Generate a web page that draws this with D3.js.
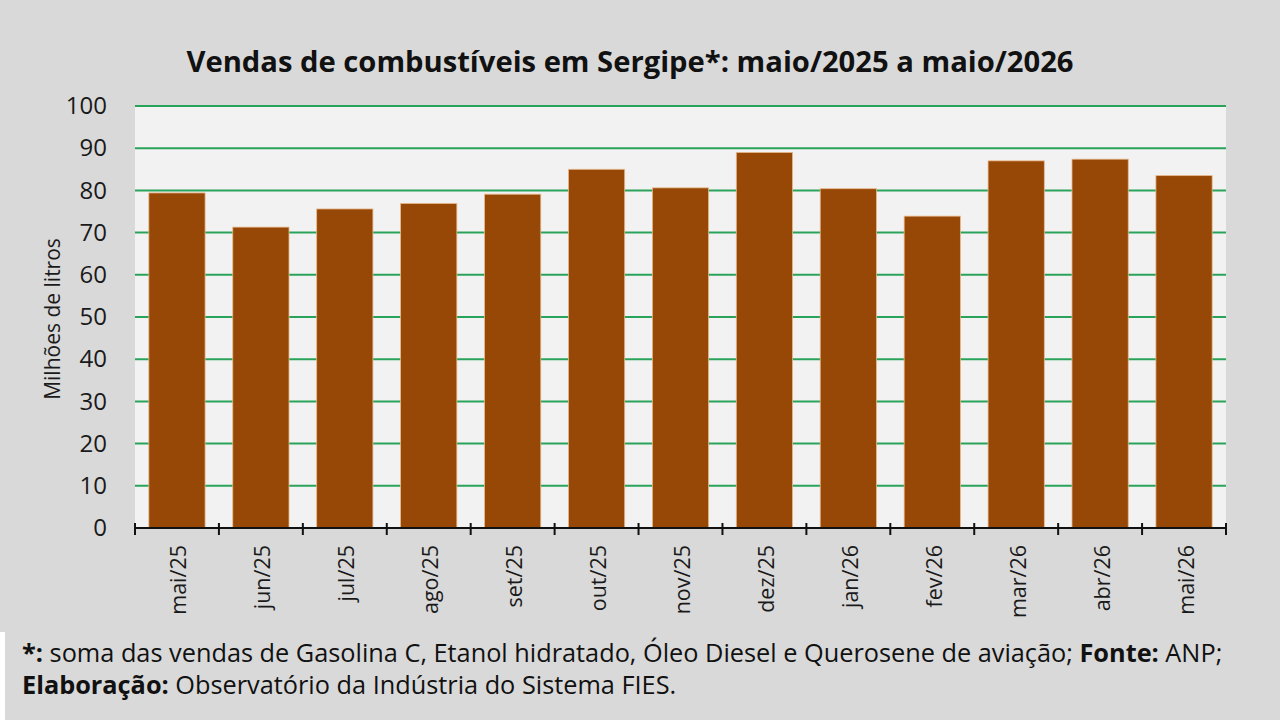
<!DOCTYPE html>
<html><head><meta charset="utf-8">
<script src="https://cdn.jsdelivr.net/npm/d3@7"></script>
<style>html,body{margin:0;padding:0;background:#d9d9d9;}svg{display:block;}</style>
</head><body>
<svg id="c" width="1280" height="720"></svg>
<script>
const categories = ["mai/25","jun/25","jul/25","ago/25","set/25","out/25","nov/25","dez/25","jan/26","fev/26","mar/26","abr/26","mai/26"];
const values = [79.4, 71.3, 75.6, 76.9, 79.1, 85.0, 80.6, 89.0, 80.4, 73.9, 87.0, 87.4, 83.5];
const yTicks = [0,10,20,30,40,50,60,70,80,90,100];
const title = "Vendas de combustíveis em Sergipe*: maio/2025 a maio/2026";
const yTitle = "Milhões de litros";

const font = "'Open Sans', 'Noto Sans', sans-serif";
const svg = d3.select("#c");
const pL = 135, pR = 1226, pT = 106, pB = 528;

svg.append("rect").attr("x",0).attr("y",0).attr("width",1280).attr("height",720).attr("fill","#d9d9d9");
svg.append("rect").attr("x",0).attr("y",632).attr("width",5).attr("height",88).attr("fill","#ffffff");

const x = d3.scaleBand().domain(categories).range([pL,pR]).paddingInner(0.33).paddingOuter(0.165);
const xb = d3.scaleBand().domain(categories).range([pL,pR]);
const y = d3.scaleLinear().domain([0,100]).range([pB,pT]);

svg.append("rect").attr("x",pL).attr("y",pT).attr("width",pR-pL).attr("height",pB-pT).attr("fill","#f2f2f2");

// gridlines
svg.append("g").selectAll("line").data(yTicks.filter(d=>d>0)).join("line")
  .attr("x1",pL).attr("x2",pR).attr("y1",d=>y(d)).attr("y2",d=>y(d))
  .attr("stroke","#2aa35a").attr("stroke-width",2);

// bars
svg.append("g").selectAll("rect").data(values).join("rect")
  .attr("x",(d,i)=>x(categories[i])).attr("width",x.bandwidth())
  .attr("y",d=>y(d)).attr("height",d=>y(0)-y(d))
  .attr("fill","#974706").attr("stroke","#e8b88a").attr("stroke-width",0.8);

// y axis labels
const ya = svg.append("g").attr("transform",`translate(${pL},0)`)
  .call(d3.axisLeft(y).tickValues(yTicks).tickSize(0).tickPadding(28));
ya.select(".domain").remove();
ya.selectAll("text").attr("font-family",font).attr("font-size",24).attr("fill","#1a1a1a");

// x axis labels
const xa = svg.append("g").attr("transform",`translate(0,${pB})`)
  .call(d3.axisBottom(x).tickSize(0));
xa.select(".domain").remove();
xa.selectAll(".tick text").attr("font-family",font).attr("font-size",21.5).attr("fill","#1a1a1a")
  .attr("transform","rotate(-90)").attr("text-anchor","end").attr("x",-17).attr("y",2).attr("dy","0.35em");

svg.append("line").attr("x1",pL).attr("x2",pR).attr("y1",pB).attr("y2",pB).attr("stroke","#111").attr("stroke-width",2);
const bounds = categories.map(c=>xb(c)).concat([pR]);
svg.append("g").selectAll("line").data(bounds).join("line")
  .attr("x1",d=>d).attr("x2",d=>d).attr("y1",pB-5).attr("y2",pB+7)
  .attr("stroke","#111").attr("stroke-width",2);

// title
svg.append("text").attr("x",630).attr("y",72).attr("text-anchor","middle")
  .attr("font-family",font).attr("font-weight","bold").attr("font-size",29.2).attr("fill","#111").text(title);

// y title
svg.append("text").attr("transform","translate(60,319) rotate(-90)").attr("text-anchor","middle")
  .attr("font-family",font).attr("font-size",21).attr("fill","#1a1a1a").text(yTitle);

// footer
const f1 = svg.append("text").attr("x",22).attr("y",662).attr("font-family",font).attr("font-size",25.3).attr("fill","#111");
f1.append("tspan").attr("font-weight","bold").text("*:");
f1.append("tspan").text(" soma das vendas de Gasolina C, Etanol hidratado, Óleo Diesel e Querosene de aviação; ");
f1.append("tspan").attr("font-weight","bold").text("Fonte:");
f1.append("tspan").text(" ANP;");
const f2 = svg.append("text").attr("x",22).attr("y",694).attr("font-family",font).attr("font-size",25.3).attr("fill","#111");
f2.append("tspan").attr("font-weight","bold").text("Elaboração:");
f2.append("tspan").text(" Observatório da Indústria do Sistema FIES.");
</script>
</body></html>
